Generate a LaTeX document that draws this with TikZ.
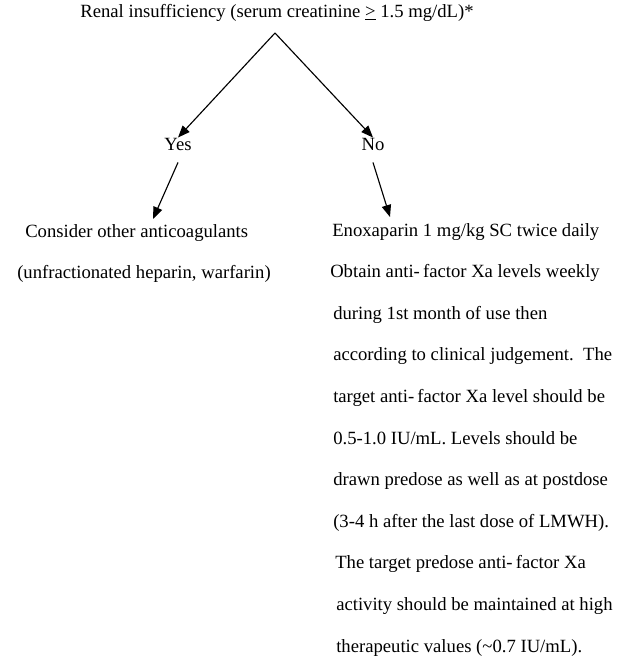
\documentclass[tikz,border=0pt]{standalone}
\usepackage{fontspec}
\setmainfont{Liberation Serif}
\usepackage{tikz}
\usetikzlibrary{arrows.meta}

\begin{document}
\begin{tikzpicture}[x=0.75pt,y=-0.75pt,
		txt/.style={font=\fontsize{14}{16}\selectfont,inner sep=0pt,anchor=base},
		arr/.style={-{Triangle[length=9pt,width=7pt]},line width=0.85pt}]
		\useasboundingbox (0,0) rectangle (623,669);
		% question at the top
		\node[txt] (renal) at (277,17) {Renal insufficiency (serum creatinine \underline{>} 1.5 mg/dL)*};
		\coordinate (apex) at (275,33);
		
		% the two answers
		\node[txt] (yes) at (178,150) {Yes};
		\node[txt] (no) at (373,150) {No};
		\draw[arr] (apex) -- (yes.north);
		\draw[arr] (apex) -- (no.north);
		
		% LEFT: yes branch
		\coordinate (yesTip) at (153,219);
		\draw[arr] ([yshift=-9pt]yes.south) -- (yesTip);
		\node[txt,anchor=base west] (consider) at (25,237) {Consider other anticoagulants};
		\node[txt,anchor=base west] (unfrac) at (17,278) {(unfractionated heparin, warfarin)};
		
		% RIGHT: no branch, one line per node
		\coordinate (noTip) at (390,217);
		\draw[arr] ([yshift=-9pt]no.south) -- (noTip);
		\foreach \xx/\line [count=\i from 0] in {
			332/{Enoxaparin 1 mg/kg SC twice daily},
			330/{Obtain anti-\,factor Xa levels weekly},
			333/{during 1st month of use then},
			333/{according to clinical judgement.~~The},
			333/{target anti-\,factor Xa level should be},
			333/{0.5-1.0 IU/mL. Levels should be},
			333/{drawn predose as well as at postdose},
			333/{(3-4 h after the last dose of LMWH).},
			335/{The target predose anti-\,factor Xa},
			336/{activity should be maintained at high},
			336/{therapeutic values (\textasciitilde0.7 IU/mL).}}
			\node[txt,anchor=base west] (enox\i) at (\xx,{236+41.6*\i}) {\line};
	\end{tikzpicture}
\end{document}
